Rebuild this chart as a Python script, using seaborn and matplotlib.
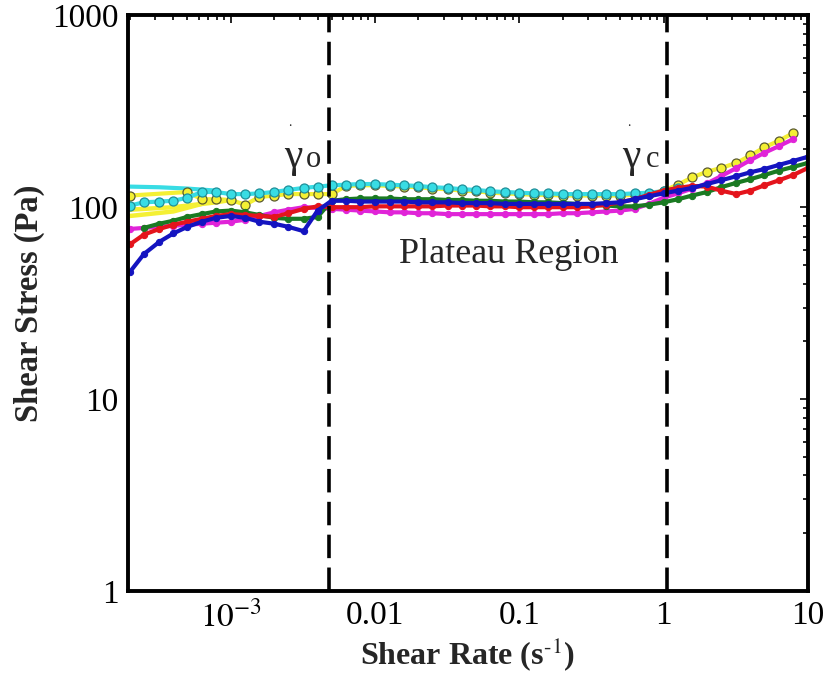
import numpy as np
import pandas as pd
import seaborn as sns
from matplotlib import pyplot as plt

# shear rate grid (1/s), 10 points per decade
rate = [2.0e-4, 2.5e-4, 3.2e-4, 4.0e-4, 5.0e-4, 6.3e-4, 7.9e-4,
        1.0e-3, 1.26e-3, 1.58e-3, 2.0e-3, 2.5e-3, 3.2e-3, 4.0e-3, 5.0e-3, 6.3e-3, 7.9e-3,
        0.01, 0.0126, 0.0158, 0.02, 0.025, 0.032, 0.04, 0.05, 0.063, 0.079,
        0.1, 0.126, 0.158, 0.2, 0.25, 0.32, 0.4, 0.5, 0.63, 0.79,
        1.0, 1.26, 1.58, 2.0, 2.5, 3.2, 4.0, 5.0, 6.3, 7.9, 10.0]
nan = np.nan

blue = [46, 57, 66, 73, 79, 84, 88, 90, 88, 84, 82, 79, 75, 96, 108, 108, 107,
        107, 107, 107, 106, 106, 106, 105, 105, 105, 104, 104, 104, 104, 104, 104,
        104, 105, 106, 110, 114, 118, 122, 126, 132, 138, 145, 152, 158, 166, 174, 183]
red = [64, 72, 77, 81, 84, 87, 90, 92, 91, 90, 89, 93, 98, 101, 100, 100, 100,
       101, 101, 101, 101, 101, 102, 102, 102, 101, 101, 100, 100, 100, 100, 100,
       101, 103, 106, 110, 116, 122, 126, 129, 128, 122, 117, 122, 130, 138, 147, 160]
green = [nan, 78, 82, 85, 89, 92, 95, 96, 94, 91, 88, 87, 87, 89, 108, 110, 111,
         111, 111, 110, 110, 110, 109, 109, 108, 108, 107, 107, 106, 106, 105, 104,
         103, 102, 101, 101, 103, 106, 110, 115, 120, 127, 134, 140, 147, 155, 162, 170]
magenta = [77, 78, 79, 80, 81, 82, 83, 84, 86, 90, 94, 97, 100, 99, 98, 97, 96,
           95, 94, 94, 93, 93, 92, 92, 92, 92, 92, 92, 92, 92, 93, 93,
           94, 95, 96, 98, 104, 112, 118, 125, 133, 145, 160, 176, 192, 208, 226, nan]
cyan = [102, 106, 107, 108, 112, 120, 120, 117, 117, 118, 120, 123, 126, 128, 130, 131, 132,
        132, 131, 130, 129, 127, 126, 124, 123, 121, 120, 119, 118, 118, 117, 117,
        117, 117, 117, 118, 119, 121, 126, nan, nan, nan, nan, nan, nan, nan, nan, nan]
yellow = [115, nan, nan, nan, 120, 110, 110, 109, 103, 113, 115, 117, 117, 117, 117, 129, 130,
          130, 129, 128, 127, 125, 124, 122, 121, 119, 118, 117, 116, 116, 115, 115,
          115, 115, 115, 116, 117, 122, 131, 143, 153, 160, 170, 186, 205, 222, 243, nan]
cyan_low = [128, nan, 127, nan, 125, nan, 122, nan, nan, nan, nan, nan, nan, nan, nan, nan, nan,
            nan, nan, nan, nan, nan, nan, nan, nan, nan, nan, nan, nan, nan, nan, nan,
            nan, nan, nan, nan, nan, nan, nan, nan, nan, nan, nan, nan, nan, nan, nan, nan]
yellow_low1 = [97, nan, nan, 100, nan, nan, 106, 109, nan, nan, nan, nan, nan, nan, nan, nan, nan,
               nan, nan, nan, nan, nan, nan, nan, nan, nan, nan, nan, nan, nan, nan, nan,
               nan, nan, nan, nan, nan, nan, nan, nan, nan, nan, nan, nan, nan, nan, nan, nan]
yellow_low2 = [90, nan, nan, 95, nan, 104, nan, nan, nan, nan, nan, nan, nan, nan, nan, nan, nan,
               nan, nan, nan, nan, nan, nan, nan, nan, nan, nan, nan, nan, nan, nan, nan,
               nan, nan, nan, nan, nan, nan, nan, nan, nan, nan, nan, nan, nan, nan, nan, nan]

x_ticks = [1e-3, 0.01, 0.1, 1, 10]
x_ticklabels = [r'$10^{-3}$', '0.01', '0.1', '1', '10']
y_ticks = [1, 10, 100, 1000]
y_ticklabels = ['1', '10', '100', '1000']

sns.set_theme(style='white')
plt.rcParams['font.family'] = ['Liberation Serif', 'DejaVu Serif']
plt.rcParams['mathtext.fontset'] = 'stix'

fig = plt.figure(figsize=(8.26, 6.75), dpi=100)
ax = fig.add_axes([0.155, 0.1244, 0.823, 0.853])
ax.set_xscale('log')
ax.set_yscale('log')


def draw(vals, color, lw=3.0, **kw):
    df = pd.DataFrame({'rate': rate, 'stress': vals}).dropna()
    sns.lineplot(data=df, x='rate', y='stress', color=color, lw=lw, ax=ax,
                 errorbar=None, legend=False, **kw)


dots = dict(marker='o', markersize=4.5)
draw(yellow_low1, '#f4f034', lw=3.2)
draw(yellow_low2, '#f4f034', lw=3.2)
draw(cyan_low, '#38dce4', lw=3.0)
draw(yellow, '#f4f034', marker='o', markersize=6.5, markerfacecolor='#f4f034',
     markeredgecolor='#5a5a30', markeredgewidth=0.9)
draw(cyan, '#38dce4', marker='o', markersize=6.5, markerfacecolor='#38dce4',
     markeredgecolor='#1f8f99', markeredgewidth=0.9)
draw(magenta, '#e024d8', markeredgecolor='#e024d8', **dots)
draw(green, '#1a7a22', markeredgecolor='#1a7a22', **dots)
draw(red, '#e4141c', markeredgecolor='#e4141c', **dots)
draw(blue, '#1414c0', markeredgecolor='#1414c0', **dots)

for xv in [0.0048, 1.06]:
    ax.axvline(xv, color='black', lw=2.6, ls=(0, (6.5, 2.6)))

ax.text(0.084, 57, 'Plateau Region', ha='center', va='center', fontsize=26)
# gamma-dot labels: upright gamma, small subscript letter, tiny dot above
for xg, sub in [(0.0027, 'o'), (0.6, 'c')]:
    ax.annotate('γ', (xg, 183), ha='center', va='center', fontsize=30)
    ax.annotate(sub, (xg, 183), xytext=(15, -2), textcoords='offset points',
                ha='center', va='center', fontsize=22)
    ax.annotate('.', (xg, 183), xytext=(-2, 25), textcoords='offset points',
                ha='center', va='center', fontsize=10)

ax.set_xlim(1.94e-4, 10)
ax.set_ylim(1, 1000)
ax.set_xticks(x_ticks)
ax.set_xticklabels(x_ticklabels)
ax.set_yticks(y_ticks)
ax.set_yticklabels(y_ticklabels)
ax.tick_params(which='both', direction='in', top=True, right=True, colors='black',
               labelsize=24, width=1.2)
ax.tick_params(which='major', length=6, pad=7)
ax.tick_params(which='minor', length=3.5)
for s in ax.spines.values():
    s.set_linewidth(2.8)
    s.set_color('black')

ax.set_xlabel(r'Shear Rate (s$^{\text{-1}}$)', fontsize=23, fontweight='bold')
ax.set_ylabel('Shear Stress (Pa)', fontsize=23.5, fontweight='bold')
ax.xaxis.set_label_coords(0.5, -0.076)
ax.yaxis.set_label_coords(-0.122, 0.5)

fig.savefig('out.png', dpi=100)
